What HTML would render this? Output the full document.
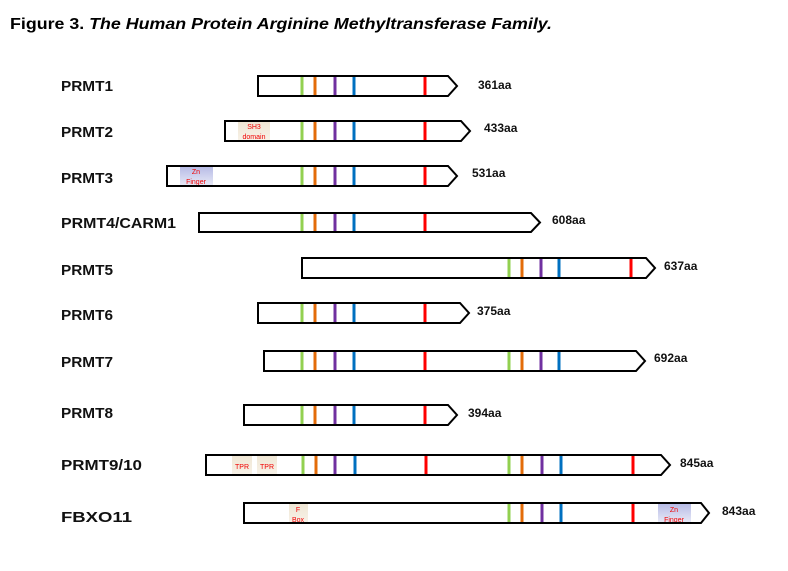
<!DOCTYPE html>
<html><head><meta charset="utf-8"><style>
body{margin:0;background:#fff}
svg{display:block}
text{font-family:"Liberation Sans",sans-serif}
.lab{font-weight:bold;font-size:15px;fill:#111}
.aa{font-weight:bold;font-size:12px;fill:#111}
.d{font-size:7px;fill:#f00000;text-anchor:middle}
</style></head><body>
<svg width="788" height="571" viewBox="0 0 788 571" xmlns="http://www.w3.org/2000/svg">
<rect width="788" height="571" fill="#fff"/>
<text x="10" y="29" font-size="16" font-weight="bold" fill="#000" textLength="542" lengthAdjust="spacingAndGlyphs">Figure 3. <tspan font-style="italic">The Human Protein Arginine Methyltransferase Family.</tspan></text>

<g class="lab">
<text x="61" y="91" textLength="52" lengthAdjust="spacingAndGlyphs">PRMT1</text>
<text x="61" y="137" textLength="52" lengthAdjust="spacingAndGlyphs">PRMT2</text>
<text x="61" y="183" textLength="52" lengthAdjust="spacingAndGlyphs">PRMT3</text>
<text x="61" y="228" textLength="115" lengthAdjust="spacingAndGlyphs">PRMT4/CARM1</text>
<text x="61" y="275" textLength="52" lengthAdjust="spacingAndGlyphs">PRMT5</text>
<text x="61" y="320" textLength="52" lengthAdjust="spacingAndGlyphs">PRMT6</text>
<text x="61" y="367" textLength="52" lengthAdjust="spacingAndGlyphs">PRMT7</text>
<text x="61" y="418" textLength="52" lengthAdjust="spacingAndGlyphs">PRMT8</text>
<text x="61" y="470" textLength="81" lengthAdjust="spacingAndGlyphs">PRMT9/10</text>
<text x="61" y="522" textLength="71" lengthAdjust="spacingAndGlyphs">FBXO11</text>
</g>

<defs>
<linearGradient id="sh" x1="0" y1="0" x2="0" y2="1"><stop offset="0" stop-color="#efe6d4"/><stop offset="1" stop-color="#f7f1e6"/></linearGradient>
<linearGradient id="zn" x1="0" y1="0" x2="0" y2="1"><stop offset="0" stop-color="#b8bce6"/><stop offset="1" stop-color="#e6e8f6"/></linearGradient>
</defs>

<rect x="238" y="122" width="32" height="18" fill="url(#sh)"/>
<text class="d" x="254" y="129">SH3</text><text class="d" x="254" y="139">domain</text>
<rect x="180" y="167" width="33" height="18" fill="url(#zn)"/>
<text class="d" x="196" y="174">Zn</text><text class="d" x="196" y="184">Finger</text>
<rect x="232" y="456" width="20" height="18" fill="url(#sh)"/><text class="d" x="242" y="469">TPR</text>
<rect x="257" y="456" width="20" height="18" fill="url(#sh)"/><text class="d" x="267" y="469">TPR</text>
<rect x="289" y="504" width="19" height="18" fill="url(#sh)"/>
<text class="d" x="298" y="512">F</text><text class="d" x="298" y="522">Box</text>
<rect x="658" y="504" width="33" height="18" fill="url(#zn)"/>
<text class="d" x="674" y="512">Zn</text><text class="d" x="674" y="522">Finger</text>

<g fill="none" stroke="#000" stroke-width="2">
<path d="M258 76H448L457 86L448 96H258Z"/>
<path d="M225 121H461L470 131L461 141H225Z"/>
<path d="M167 166H448L457 176L448 186H167Z"/>
<path d="M199 213H531L540 222.5L531 232H199Z"/>
<path d="M302 258H646L655 268L646 278H302Z"/>
<path d="M258 303H460L469 313L460 323H258Z"/>
<path d="M264 351H636L645 361L636 371H264Z"/>
<path d="M244 405H448L457 415L448 425H244Z"/>
<path d="M206 455H661L670 465L661 475H206Z"/>
<path d="M244 503H701L709 513L701 523H244Z"/>
</g>

<g stroke-width="3">
<g stroke="#92d050"><path d="M302 77V95M302 122V140M302 167V185M302 214V231M302 304V322M302 352V370M302 406V424M303 456V474"/></g>
<g stroke="#e36c09"><path d="M315 77V95M315 122V140M315 167V185M315 214V231M315 304V322M315 352V370M315 406V424M316 456V474"/></g>
<g stroke="#7030a0"><path d="M335 77V95M335 122V140M335 167V185M335 214V231M335 304V322M335 352V370M335 406V424M335 456V474"/></g>
<g stroke="#0070c0"><path d="M354 77V95M354 122V140M354 167V185M354 214V231M354 304V322M354 352V370M354 406V424M355 456V474"/></g>
<g stroke="#ff0000"><path d="M425 77V95M425 122V140M425 167V185M425 214V231M425 304V322M425 352V370M425 406V424M426 456V474"/></g>
<g stroke="#92d050"><path d="M509 259V277M509 352V370M509 456V474M509 504V522"/></g>
<g stroke="#e36c09"><path d="M522 259V277M522 352V370M522 456V474M522 504V522"/></g>
<g stroke="#7030a0"><path d="M541 259V277M541 352V370M542 456V474M542 504V522"/></g>
<g stroke="#0070c0"><path d="M559 259V277M559 352V370M561 456V474M561 504V522"/></g>
<g stroke="#ff0000"><path d="M631 259V277M633 456V474M633 504V522"/></g>
</g>

<g class="aa">
<text x="478" y="89">361aa</text>
<text x="484" y="132">433aa</text>
<text x="472" y="177">531aa</text>
<text x="552" y="224">608aa</text>
<text x="664" y="270">637aa</text>
<text x="477" y="315">375aa</text>
<text x="654" y="362">692aa</text>
<text x="468" y="417">394aa</text>
<text x="680" y="467">845aa</text>
<text x="722" y="515">843aa</text>
</g>
</svg>
</body></html>
